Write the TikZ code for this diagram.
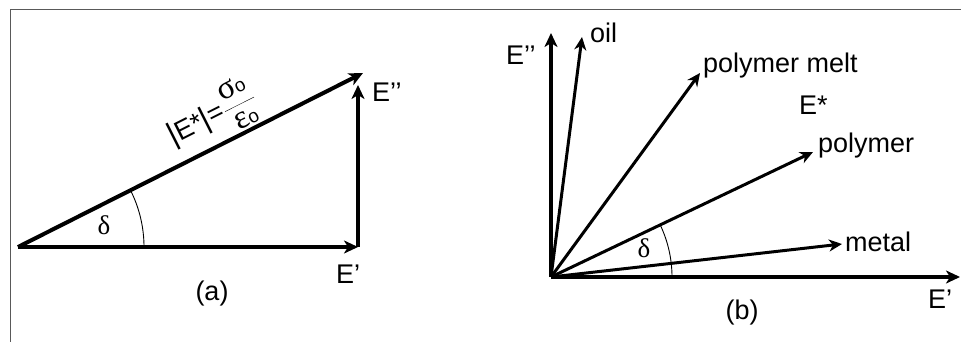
\documentclass[tikz,border=0pt]{standalone}
\usepackage{fontspec}
\setmainfont{Liberation Sans}
\newfontfamily\grk{Liberation Serif}
\usetikzlibrary{arrows.meta}
\newcommand{\gsym}[1]{\hspace{2pt}{\fontsize{33}{33}\selectfont\grk #1}{\fontsize{19}{19}\selectfont\rmfamily o}\hspace{2pt}}
\begin{document}
\begin{tikzpicture}[x=1pt,y=-1pt,
  vec/.style={line width=3pt, -{Stealth[length=13pt,width=12pt,inset=4pt]}},
  bigvec/.style={line width=4pt, -{Stealth[length=14pt,width=13pt,inset=4pt]}},
  lbl/.style={inner sep=0pt, font=\fontsize{27}{30}\selectfont},
  thinarc/.style={line width=0.9pt},
  frame/.style={line width=1pt, black!65}]
\useasboundingbox (0,0) rectangle (961,342);
% frame
\coordinate (f1) at (10,342);
\coordinate (f2) at (10,10);
\coordinate (f3) at (961,10);
\draw[frame] (f1) -- (f2) -- (f3);
% ---------- panel (a)
\coordinate (A0) at (18,247);
\coordinate (A1) at (358,247);
\coordinate (A2) at (358,85);
\coordinate (A3) at (363,73);
\draw[bigvec] (A0) -- (A1);
\draw[bigvec] (A1) -- (A2);
\draw[bigvec] (A0) -- node[lbl, sloped, above, pos=0.6, inner sep=2pt]
  {\raisebox{-1pt}{\fontsize{31}{31}\selectfont|}E*\raisebox{-1pt}{\fontsize{31}{31}\selectfont|}$\displaystyle\mbox{=}\frac{\mbox{\gsym{σ}}}{\mbox{\gsym{ε}}}$} (A3);
\draw[thinarc] (A0) ++(126,0) arc[start angle=0, end angle=-26.9, radius=126];
\node[lbl, anchor=center] (da) at (104,225) {\grk δ};
\node[lbl, anchor=base west] (Epp) at (372,102) {E’’};
\node[lbl, anchor=base west] (Ep) at (336,283) {E’};
\node[lbl, anchor=base] (la) at (212,300) {(a)};
% ---------- panel (b)
\coordinate (B0) at (551,277);
\coordinate (Bx) at (960,277);
\coordinate (By) at (551,33);
\coordinate (Boil) at (582,37);
\coordinate (Bmelt) at (700,73);
\coordinate (Bpol) at (813,152);
\coordinate (Bmet) at (842,244);
\draw[bigvec] (B0) -- (Bx);
\draw[bigvec] (B0) -- (By);
\draw[vec] (B0) -- (Boil);
\draw[vec] (B0) -- (Bmelt);
\draw[vec] (B0) -- (Bpol);
\draw[vec] (B0) -- (Bmet);
\draw[thinarc] (B0) ++(121,0) arc[start angle=0, end angle=-25.5, radius=121];
\node[lbl, anchor=center] (db) at (644,248) {\grk δ};
\node[lbl, anchor=base west] (Lypp) at (506,65) {E’’};
\node[lbl, anchor=base west] (Loil) at (590,43) {oil};
\node[lbl, anchor=base west] (Lmelt) at (703,73) {polymer melt};
\node[lbl, anchor=base west] (Lstar) at (799,115) {E*};
\node[lbl, anchor=base west] (Lpol) at (818,153) {polymer};
\node[lbl, anchor=base west] (Lmet) at (845,251) {metal};
\node[lbl, anchor=base west] (Lxp) at (928,308) {E’};
\node[lbl, anchor=base] (lb) at (742,319) {(b)};
\end{tikzpicture}
\end{document}
